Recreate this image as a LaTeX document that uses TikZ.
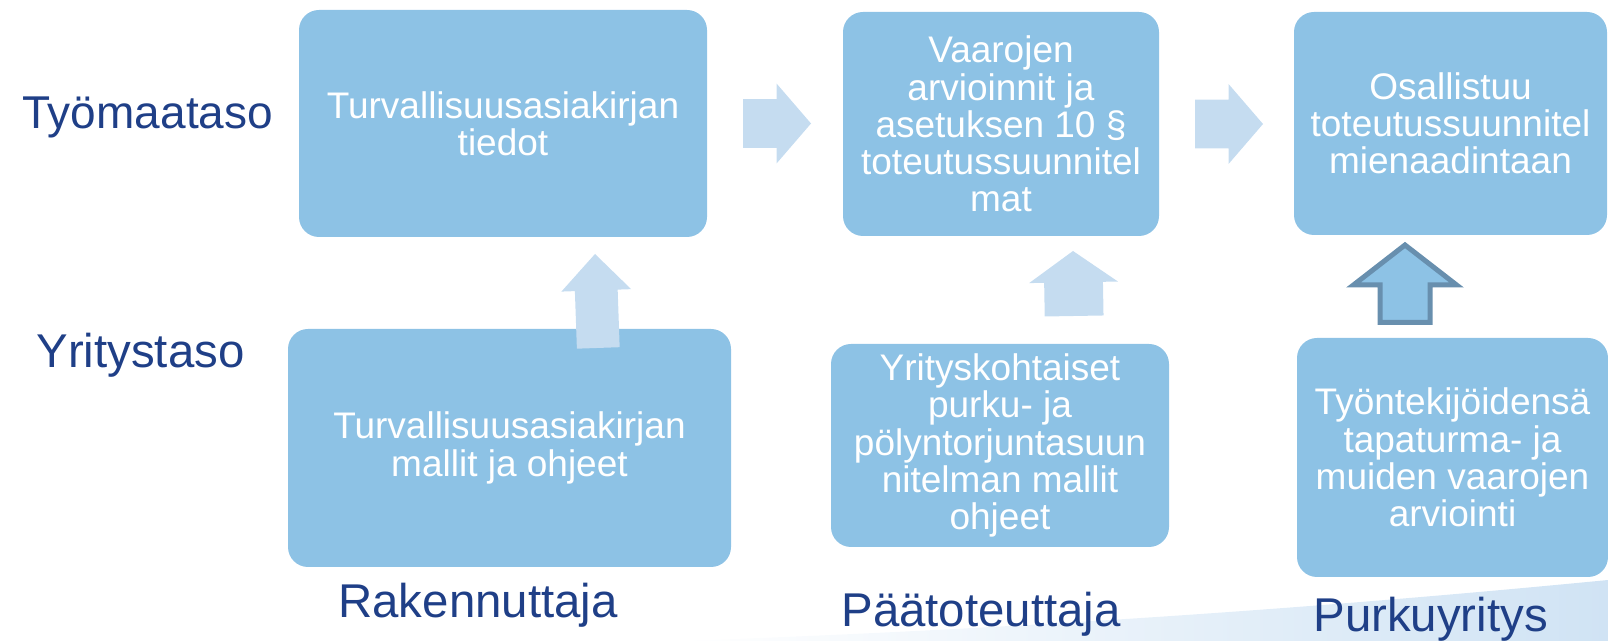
\documentclass[tikz,border=0pt]{standalone}
\usepackage{fontspec}
\setmainfont{Liberation Sans}
\usetikzlibrary{shapes.arrows}

\definecolor{boxblue}{RGB}{141,194,229}
\definecolor{paleblue}{RGB}{197,220,240}
\definecolor{edgeblue}{RGB}{104,143,174}
\definecolor{roleblue}{RGB}{31,63,135}
\definecolor{swooshblue}{RGB}{208,227,244}

\tikzset{
  infobox/.style={rectangle, rounded corners=10pt, fill=boxblue, text=white,
    align=center, inner sep=0pt, font=\fontsize{18.5}{18.6}\selectfont},
  rolelabel/.style={anchor=base west, inner sep=0pt, text=roleblue,
    font=\fontsize{23.7}{23.7}\selectfont},
  blockarrow/.style={single arrow, fill=paleblue, inner xsep=0pt, outer sep=0pt,
    anchor=tip, single arrow head indent=0pt}
}

\begin{document}
\begin{tikzpicture}[x=0.5pt,y=-0.5pt]
  \useasboundingbox (0,0) rectangle (1608,641);

  % background swoosh
  \shade[left color=white, right color=swooshblue]
    (680,641) .. controls (1050,628) and (1350,605) .. (1608,580) -- (1608,641) -- cycle;

  % levels
  \node[rolelabel, font=\fontsize{23}{23}\selectfont] (tyomaa) at (22,129) {Työmaataso};
  \node[rolelabel] (yritys) at (36,368) {Yritystaso};

  % upper row
  \node[infobox, minimum width=204pt, minimum height=113.5pt] (tiedot) at (503,123.5)
    {Turvallisuusasiakirjan\\tiedot};
  \node[infobox, minimum width=158pt, minimum height=112pt] (arvioinnit) at (1001,124)
    {Vaarojen\\arvioinnit ja\\asetuksen 10 §\\toteutussuunnitel\\mat};
  \node[infobox, minimum width=156.5pt, minimum height=111.5pt] (osallistuu) at (1450.5,123.5)
    {Osallistuu\\toteutussuunnitel\\mienaadintaan};

  % lower row
  \node[infobox, minimum width=221.5pt, minimum height=119pt] (mallit) at (509.5,448)
    {Turvallisuusasiakirjan\\mallit ja ohjeet};
  \node[infobox, minimum width=169pt, minimum height=101.5pt] (yrityskoht) at (1000,445.5)
    {Yrityskohtaiset\\purku- ja\\pölyntorjuntasuun\\nitelman mallit\\ohjeet};
  \node[infobox, minimum width=155.5pt, minimum height=119.5pt] (tyontekijat) at (1452.5,457.5)
    {Työntekijöidensä\\tapaturma- ja\\muiden vaarojen\\arviointi};

  % actors
  \node[rolelabel] (rakennuttaja) at (338,618) {Rakennuttaja};
  \node[rolelabel] (paatoteuttaja) at (841,627) {Päätoteuttaja};
  \node[rolelabel] (purkuyritys) at (1313,632) {Purkuyritys};

  % arrows along the upper row
  \node[blockarrow, inner ysep=12pt, minimum height=34pt,
    single arrow head extend=7.75pt, single arrow tip angle=98.5] (oikea1) at (811,123.5) {};
  \node[blockarrow, inner ysep=12pt, minimum height=34pt,
    single arrow head extend=7.75pt, single arrow tip angle=98.5] (oikea2) at (1263,124) {};

  % arrows up from the company level
  \node[blockarrow, rotate=92, inner ysep=10.5pt, minimum height=47pt,
    single arrow head extend=6.75pt, single arrow tip angle=87.6] (ylos1) at (595,254) {};
  \node[blockarrow, rotate=91, inner ysep=14.5pt, minimum height=32.5pt,
    single arrow head extend=7.5pt, single arrow tip angle=109.6] (ylos2) at (1073,251) {};
  \node[blockarrow, rotate=90, fill=boxblue, draw=edgeblue, line width=2.5pt,
    inner ysep=11.25pt, minimum height=38.75pt,
    single arrow head extend=13.25pt, single arrow tip angle=104.4] (ylos3) at (1405,245) {};
\end{tikzpicture}
\end{document}
